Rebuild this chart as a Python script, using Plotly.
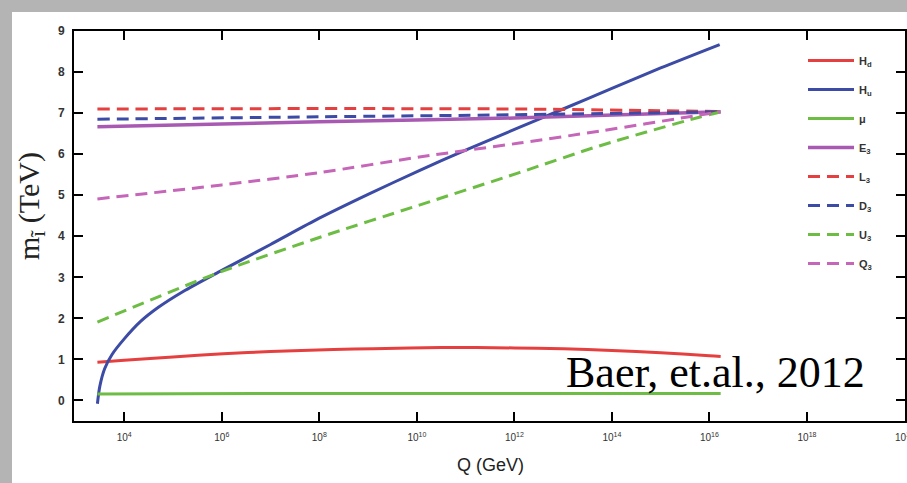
import plotly.graph_objects as go

# ---------------- data (log10 Q [GeV] and mass in TeV) ----------------
hd_logq = [3.45, 4, 5, 6.03, 7, 8.29, 9.11, 10.5, 12, 13, 14, 15, 16, 16.23]
hd_m = [0.93, 0.98, 1.06, 1.14, 1.19, 1.24, 1.26, 1.29, 1.28, 1.26, 1.22, 1.16, 1.09, 1.07]

hu_logq = [3.45, 3.5, 3.6, 3.75, 4.0, 4.33, 4.7, 5.2, 6.0, 7.0, 8.0, 9.0, 10.05, 11.0, 12.1, 13.0, 14.0, 15.0, 16.21]
hu_m = [-0.08, 0.35, 0.78, 1.12, 1.5, 1.92, 2.27, 2.65, 3.17, 3.8, 4.44, 5.02, 5.6, 6.1, 6.65, 7.1, 7.6, 8.1, 8.67]

mu_logq = [3.45, 8, 12, 16.23]
mu_m = [0.16, 0.17, 0.17, 0.17]

e3_logq = [3.45, 8, 12, 16.23]
e3_m = [6.67, 6.79, 6.88, 7.03]

l3_logq = [3.45, 8, 12, 16.23]
l3_m = [7.1, 7.11, 7.1, 7.04]

d3_logq = [3.45, 8, 12, 16.23]
d3_m = [6.85, 6.91, 6.96, 7.03]

u3_logq = [3.45, 5.97, 8.0, 10.05, 12.1, 13.74, 15.79, 16.23]
u3_m = [1.91, 3.13, 3.97, 4.76, 5.55, 6.2, 6.9, 7.03]

q3_logq = [3.45, 6.0, 8.0, 10.05, 12.1, 13.74, 15.79, 16.23]
q3_m = [4.91, 5.25, 5.55, 5.93, 6.27, 6.56, 6.95, 7.03]

x_tick_exp = [4, 6, 8, 10, 12, 14, 16, 18, 20]
y_tick_vals = [0, 1, 2, 3, 4, 5, 6, 7, 8, 9]

series = [
    ("H<sub>d</sub>", hd_logq, hd_m, "#e5403f", "solid", 3),
    ("H<sub>u</sub>", hu_logq, hu_m, "#3c4ba5", "solid", 3),
    ("μ", mu_logq, mu_m, "#6dbd45", "solid", 3),
    ("E<sub>3</sub>", e3_logq, e3_m, "#a85ab3", "solid", 3.5),
    ("L<sub>3</sub>", l3_logq, l3_m, "#e5403f", "12px,7px", 3),
    ("D<sub>3</sub>", d3_logq, d3_m, "#3c4ba5", "12px,7px", 3),
    ("U<sub>3</sub>", u3_logq, u3_m, "#6dbd45", "12px,7px", 3),
    ("Q<sub>3</sub>", q3_logq, q3_m, "#c566b9", "12px,7px", 3),
]

fig = go.Figure()
for i, (name, lq, m, col, dash, w) in enumerate(series):
    fig.add_trace(go.Scatter(
        x=[10.0 ** v for v in lq], y=m, mode="lines", name=name,
        legendgroup=f"g{i}",
        line=dict(color=col, width=w, dash=dash, shape="spline", smoothing=0.8),
    ))

W, H = 907, 483
L, R, T, B = 74, 2, 31, 62
pw, ph = W - L - R, H - T - B

def px_x(p):
    return (p - L) / pw

def px_y(p):
    return (H - B - p) / ph

axis_common = dict(
    showline=True, linecolor="black", linewidth=2, mirror="ticks",
    ticks="inside", ticklen=9, tickwidth=2, tickcolor="black",
    showgrid=False, zeroline=False, automargin=False,
)

fig.update_xaxes(
    type="log", range=[2.97, 20.01],
    tickvals=[10.0 ** e for e in x_tick_exp],
    ticktext=[f"10<sup>{e}</sup>" for e in x_tick_exp],
    tickfont=dict(family="Liberation Sans", size=10, color="#333"),
    ticklabelstandoff=6, ticklabeloverflow="allow",
    **axis_common,
)
fig.update_yaxes(
    range=[-0.5, 9],
    tickvals=y_tick_vals,
    tickfont=dict(family="Liberation Sans", size=12, color="#333", weight="bold"),
    ticklabelstandoff=5,
    **axis_common,
)

fig.update_layout(
    width=W, height=H,
    margin=dict(l=L, r=R, t=T, b=B, pad=0, autoexpand=False),
    paper_bgcolor="#b4b4b4",
    plot_bgcolor="white",
    showlegend=True,
    legend=dict(
        x=px_x(803), y=px_y(46), xanchor="left", yanchor="top",
        bgcolor="rgba(0,0,0,0)", borderwidth=0,
        font=dict(family="Liberation Sans", size=11, color="#333", weight="bold"),
        itemwidth=46, tracegroupgap=10, traceorder="grouped",
    ),
    shapes=[dict(
        type="rect", xref="paper", yref="paper", layer="below",
        x0=px_x(12), x1=px_x(W + 5), y0=px_y(H + 5), y1=px_y(12),
        fillcolor="white", line=dict(width=0),
    )],
    annotations=[
        dict(text="Baer, et.al., 2012", xref="paper", yref="paper",
             x=px_x(715), y=px_y(372), xanchor="center", yanchor="middle",
             showarrow=False,
             font=dict(family="Liberation Serif", size=44, color="black")),
        dict(text="m<sub>ĩ</sub> (TeV)", xref="paper", yref="paper",
             x=px_x(31), y=px_y(206), xanchor="center", yanchor="middle",
             textangle=-90, showarrow=False,
             font=dict(family="Liberation Serif", size=30, color="#222")),
        dict(text="Q (GeV)", xref="paper", yref="paper",
             x=px_x(490), y=px_y(465), xanchor="center", yanchor="middle",
             showarrow=False,
             font=dict(family="Liberation Sans", size=18, color="#222")),
    ],
)

fig.write_html("out.html")
